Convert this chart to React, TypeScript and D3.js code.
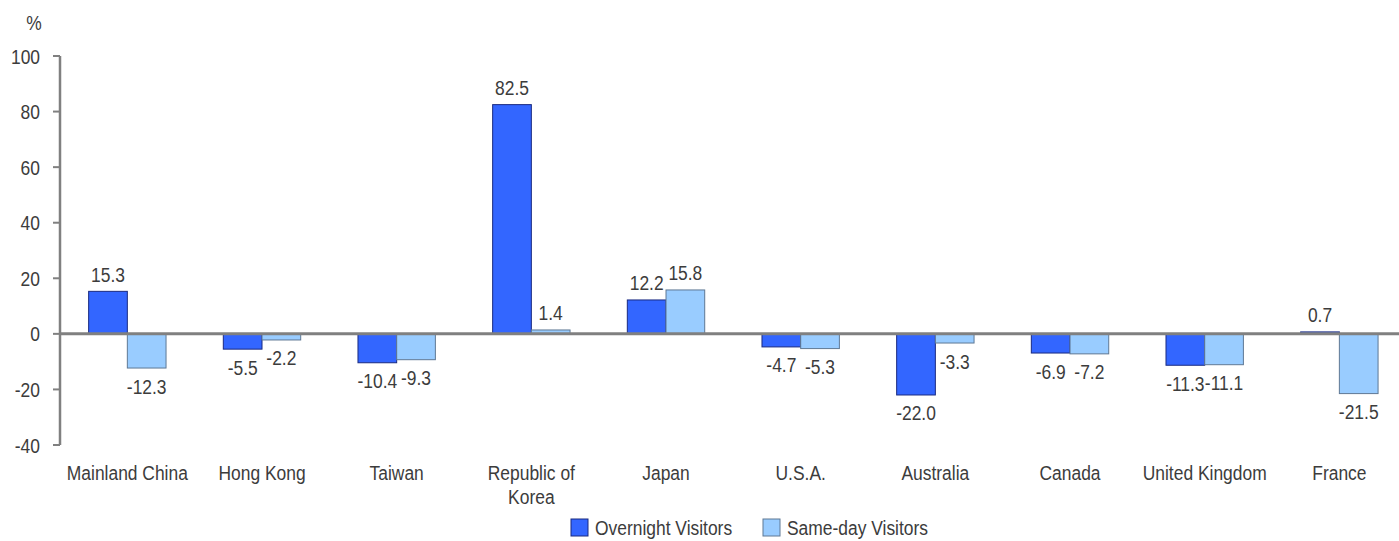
import React from "react";
import * as d3 from "d3";

const categories = [
  ["Mainland China"],
  ["Hong Kong"],
  ["Taiwan"],
  ["Republic of", "Korea"],
  ["Japan"],
  ["U.S.A."],
  ["Australia"],
  ["Canada"],
  ["United Kingdom"],
  ["France"],
];
const overnight = [15.3, -5.5, -10.4, 82.5, 12.2, -4.7, -22.0, -6.9, -11.3, 0.7];
const sameDay = [-12.3, -2.2, -9.3, 1.4, 15.8, -5.3, -3.3, -7.2, -11.1, -21.5];
const seriesNames = ["Overnight Visitors", "Same-day Visitors"];
const yTicks = [100, 80, 60, 40, 20, 0, -20, -40];

const W = 1399;
const H = 541;
const FONT = "'Liberation Sans', Arial, sans-serif";
const TXT = "#3c3c3c";
const AXIS = "#808080";
const SX = 0.83;

const fills = ["#3366FF", "#99CCFF"];
const strokes = ["#1a2a80", "#5f7894"];

// horizontally condensed text, like the original
function T({ x, y, anchor = "middle", children }: any) {
  return (
    <text
      transform={`translate(${x},${y}) scale(${SX},1)`}
      textAnchor={anchor}
      fontFamily={FONT}
      fontSize={21}
      fill={TXT}
    >
      {children}
    </text>
  );
}

export default function App() {
  const x = d3
    .scaleBand()
    .domain(categories.map((d, i) => String(i)))
    .range([60, 1406.7]);
  const xs = d3
    .scaleBand()
    .domain(seriesNames)
    .range([0, x.bandwidth()])
    .paddingOuter(0.74);
  const y = d3.scaleLinear().domain([-40, 100]).range([445, 56]);

  const data = [overnight, sameDay];

  return (
    <svg
      width={W}
      height={H}
      style={{ position: "absolute", left: 0, top: 0, background: "#fff" }}
    >
      <T x={34} y={30}>%</T>

      {/* y axis */}
      <line x1={60} x2={60} y1={y(100)} y2={y(-40)} stroke={AXIS} strokeWidth={2.5} />
      {yTicks.map((t) => (
        <g key={t}>
          <line x1={53} x2={60} y1={y(t)} y2={y(t)} stroke={AXIS} strokeWidth={2} />
          <T x={40} y={y(t) + 7.5} anchor="end">
            {t}
          </T>
        </g>
      ))}

      {/* bars */}
      {data.map((vals, s) =>
        vals.map((v, i) => {
          const bx = x(String(i))! + xs(seriesNames[s])!;
          const top = y(Math.max(0, v));
          const h = Math.abs(y(v) - y(0));
          return (
            <rect
              key={`${s}-${i}`}
              x={bx}
              y={top}
              width={xs.bandwidth()}
              height={h}
              fill={fills[s]}
              stroke={strokes[s]}
              strokeWidth={1}
            />
          );
        })
      )}

      {/* zero line */}
      <line x1={60} x2={W} y1={y(0)} y2={y(0)} stroke={AXIS} strokeWidth={3} />

      {/* data labels */}
      {data.map((vals, s) =>
        vals.map((v, i) => {
          const cx = x(String(i))! + xs(seriesNames[s])! + xs.bandwidth() / 2;
          const cy = v >= 0 ? y(v) - 17 : y(v) + 18;
          return (
            <T key={`l${s}-${i}`} x={cx} y={cy + 7.5}>
              {v.toFixed(1)}
            </T>
          );
        })
      )}

      {/* category labels */}
      {categories.map((lines, i) => {
        const cx = x(String(i))! + x.bandwidth() / 2;
        return lines.map((ln, k) => (
          <T key={`c${i}-${k}`} x={cx} y={480 + k * 24}>
            {ln}
          </T>
        ));
      })}

      {/* legend */}
      {seriesNames.map((n, s) => {
        const lx = [571, 763][s];
        return (
          <g key={n}>
            <rect
              x={lx}
              y={519}
              width={17}
              height={17}
              fill={fills[s]}
              stroke={strokes[s]}
              strokeWidth={1}
            />
            <T x={lx + 24} y={535} anchor="start">
              {n}
            </T>
          </g>
        );
      })}
    </svg>
  );
}
